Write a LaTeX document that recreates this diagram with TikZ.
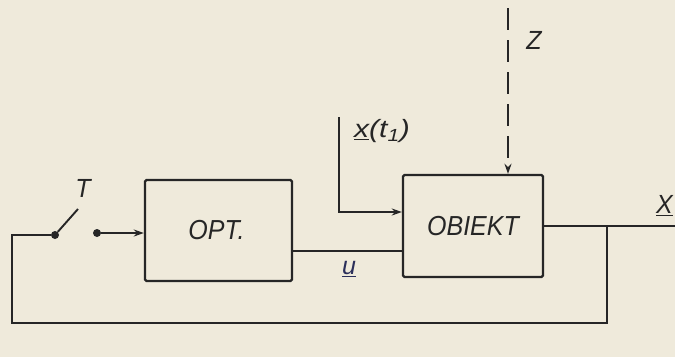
\documentclass[tikz,border=0pt]{standalone}
\usepackage{fontspec}
\setsansfont{Liberation Sans}
\usetikzlibrary{arrows.meta}
\definecolor{paper}{HTML}{EFEADB}
\definecolor{ink}{HTML}{262626}
\definecolor{pen}{HTML}{2B2F5A}
\tikzset{
  wire/.style={draw=ink, line width=1.9pt},
  arr/.style={wire, -{Stealth[length=10pt,width=7pt]}},
  block/.style={draw=ink, line width=2.4pt, rounded corners=1.5pt, inner sep=0pt},
  lbl/.style={text=ink, font=\sffamily\itshape\fontsize{25}{25}\selectfont, inner sep=0pt},
  dot/.style={circle, fill=ink, inner sep=0pt, minimum size=8pt},
}
\begin{document}
\begin{tikzpicture}[x=1pt,y=-1pt]
  \fill[paper] (0,0) rectangle (675,357);
  \useasboundingbox (0,0) rectangle (675,357);

  % blocks
  \node[block, minimum width=147pt, minimum height=101pt] (opt) at (218.5,230.5) {};
  \node[lbl, yscale=1.1] at ([xshift=-2pt]opt.center) {OPT.};
  \node[block, minimum width=140pt, minimum height=102pt] (obj) at (473,226) {};
  \node[lbl, yscale=1.1] at (obj.center) {OBIEKT};

  % switch T
  \node[dot] (s1) at (55,235) {};
  \node[dot] (s2) at (97,233) {};
  \coordinate (arm) at (78,209);
  \draw[wire] (s1) -- (arm);
  \node[lbl, yscale=1.05] (T) at (83,188) {T};

  % switch to optimiser
  \draw[arr] (s2) -- (s2 -| opt.west);

  % control u from optimiser to plant
  \coordinate (uout) at (opt.east |- 0,251);
  \draw[wire] (uout) -- (uout -| obj.west);
  \node[text=pen, font=\sffamily\itshape\fontsize{25}{25}\selectfont, inner sep=0pt] (u) at (349,269) {\underline{u}};

  % initial state input
  \coordinate (x0) at (339,117);
  \coordinate (x0c) at (339,212);
  \draw[arr] (x0) -- (x0c) -- (x0c -| obj.west);
  \node[lbl, anchor=west, xscale=1.2] (xt) at (354,131) {\underline{x}(t\textsubscript{1})};

  % disturbance z
  \coordinate (z0) at (508,8);
  \draw[arr, dash pattern=on 22pt off 10pt] (z0) -- (z0 |- obj.north);
  \node[lbl, yscale=1.05] (z) at (534,40) {Z};

  % output and feedback loop
  \coordinate (yout) at (obj.east |- 0,226);
  \coordinate (j) at (607,226);
  \coordinate (xend) at (675,226);
  \draw[wire] (yout) -- (xend);
  \node[lbl, anchor=east, yscale=1.05] (x) at (673,206) {\underline{X}};
  \coordinate (b1) at (607,323);
  \coordinate (b2) at (12,323);
  \coordinate (b3) at (12,235);
  \draw[wire] (j) -- (b1) -- (b2) -- (b3) -- (s1);
\end{tikzpicture}
\end{document}
